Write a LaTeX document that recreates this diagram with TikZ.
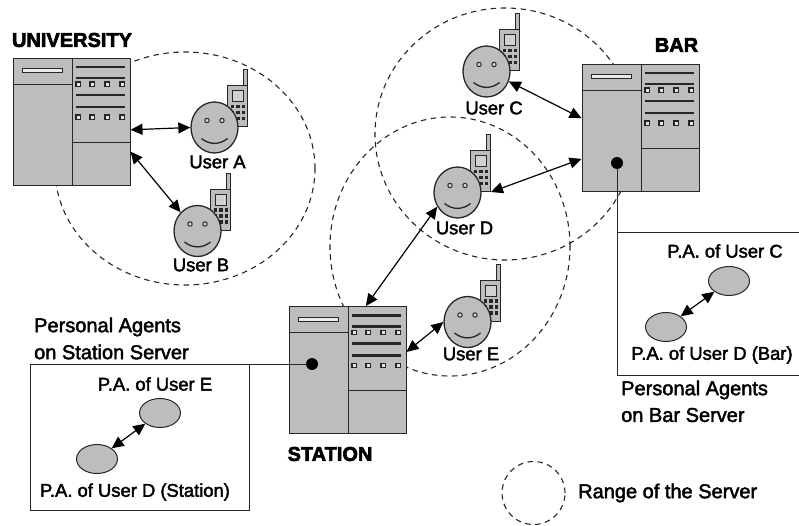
\documentclass[tikz,border=0pt]{standalone}
\usepackage{fontspec}
\setmainfont[FakeBold=2.2]{Liberation Sans}
\newfontfamily\headfont[FakeBold=3]{Liberation Sans Bold}
\usetikzlibrary{shapes.geometric,arrows.meta}
\definecolor{srv}{gray}{0.74}
\definecolor{ink}{gray}{0.15}
\tikzset{
 x=1pt,y=-1pt,
 ln/.style={draw=ink,line width=1pt},
 rangeline/.style={draw=ink,line width=1.1pt,dash pattern=on 5.5pt off 4.5pt},
 conn/.style={draw=black,line width=1.2pt,{Triangle[length=12pt,width=11pt]}-{Triangle[length=12pt,width=11pt]}},
 lbl/.style={font=\fontsize{18.4}{18.4}\selectfont,inner sep=0pt,text=black},
 captext/.style={font=\fontsize{20}{20}\selectfont,inner sep=0pt,text=black},
 head/.style={font=\headfont\fontsize{20}{20}\selectfont,inner sep=0pt},
 agent/.style={ellipse,draw=ink,line width=1pt,fill=srv,minimum width=41pt,minimum height=29pt,inner sep=0pt},
 facenode/.style={ellipse,draw=ink,line width=1.3pt,fill=srv,minimum width=47pt,minimum height=51pt,inner sep=0pt},
 srvbox/.style={rectangle,ln,fill=srv,minimum width=117pt,minimum height=127pt,inner sep=0pt},
 dotn/.style={circle,fill=black,minimum size=12pt,inner sep=0pt},
}
% server: name, centre x, centre y
\newcommand{\serverbox}[3]{%
 \node[srvbox] (#1) at (#2,#3) {};
 \begin{scope}[shift={(#2-58.5,#3-63.5)}]
  \draw[ln] (59,0) -- (59,127);
  \draw[ln] (0,26) -- (59,26);
  \draw[ln] (59,84) -- (117,84);
  \draw[draw=ink,line width=1pt,fill=white!70!srv] (9,10.5) rectangle (49,14.5);
  \foreach \yy in {9,20,37,49} \draw[draw=ink,line width=2.2pt] (63,\yy) -- (112,\yy);
  \foreach \yy in {26,59} \foreach \xx in {65,79,94,109}
   \draw[draw=ink,line width=1.4pt,fill=white!60!srv] (\xx-2.2,\yy-2.2) rectangle (\xx+2.2,\yy+2.2);
 \end{scope}}
% user: name, face centre x, y
\newcommand{\userface}[3]{%
 \begin{scope}[shift={(#2,#3)}]
  \draw[draw=ink,line width=1pt,fill=srv] (29,-42) rectangle (33,-58);
  \draw[draw=ink,line width=1pt,fill=srv] (13,-42) rectangle (33,-1);
  \draw[draw=ink,line width=1pt,fill=white!30!srv] (18,-37) rectangle (29,-26);
  \foreach \yy in {-21,-15,-9} \foreach \xx in {18,23.5,29}
   \fill[ink] (\xx-1.8,\yy-1.8) rectangle (\xx+1.8,\yy+1.8);
 \end{scope}
 \node[facenode] (#1) at (#2,#3) {};
 \begin{scope}[shift={(#2,#3)}]
  \draw[draw=ink,line width=1pt,fill=white!40!srv] (-7.5,-7) circle (2.2pt) (7.5,-7) circle (2.2pt);
  \draw[draw=ink,line width=1.3pt] (-13,11) .. controls (-5,17.5) and (5,17.5) .. (13,11);
 \end{scope}}
\begin{document}
\begin{tikzpicture}
\useasboundingbox (0,0) rectangle (799,525);
% ranges
\draw[rangeline] (185,168.5) ellipse (130pt and 116.5pt);
\draw[rangeline] (505,134) ellipse (130pt and 126pt);
\draw[rangeline] (450,246.5) ellipse (120pt and 129.5pt);
\draw[rangeline] (533.5,493) circle (31.5pt);
% servers
\serverbox{uni}{71.5}{121.5}
\serverbox{bar}{640.5}{127.5}
\serverbox{sta}{347.5}{370}
\node[dotn] (bardot) at (617,163) {};
\node[dotn] (stadot) at (312,364) {};
% agent boxes
\coordinate (barc) at (617,232);
\coordinate (barr) at (799,232);
\coordinate (barb) at (799,375);
\coordinate (barl) at (617,375);
\coordinate (stal) at (30,364);
\coordinate (stac) at (249,364);
\coordinate (stab) at (249,510);
\coordinate (stad) at (30,510);
\draw[draw=ink,line width=1pt] (bardot) -- (barl) -- (barb);
\draw[draw=ink,line width=1pt] (barc) -- (barr);
\draw[draw=ink,line width=1pt] (stadot) -- (stal) -- (stad) -- (stab) -- (stac);
% users
\userface{ua}{214.5}{127.5}
\userface{ub}{197.5}{231}
\userface{uc}{486.5}{71.5}
\userface{ud}{457.5}{192.5}
\userface{ue}{467.5}{322}
\coordinate (udphone) at (491,192);
\node[lbl] at (217.5,162) {User A};
\node[lbl] at (201,265) {User B};
\node[lbl] at (494,108) {User C};
\node[lbl] at (464.5,228) {User D};
\node[lbl] at (471,354) {User E};
% connectors
\draw[conn] (uni.-8) -- (ua.west);
\draw[conn] (uni.-27.5) -- (ub.132);
\draw[conn] (uc.-24) -- (bar.171);
\draw[conn] (udphone) -- (bar.208);
\draw[conn] (ud.-145) -- (sta.74);
\draw[conn] (ue.180) -- (sta.17);
% agents
\node[agent] (pae) at (160,413) {};
\node[agent] (pads) at (97,459) {};
\node[agent] (pac) at (729,281) {};
\node[agent] (padb) at (666,327) {};
\draw[conn] (pae) -- (pads);
\draw[conn] (pac) -- (padb);
% texts
\node[lbl] at (155,384) {P.A. of User E};
\node[lbl] at (135,492) {P.A. of User D (Station)};
\node[captext,anchor=west] at (34,327) {Personal Agents};
\node[captext,anchor=west] at (34,352) {on Station Server};
\node[lbl] at (725,251) {P.A. of User C};
\node[lbl] at (712,355) {P.A. of User D (Bar)};
\node[captext,anchor=west] at (621,390) {Personal Agents};
\node[captext,anchor=west] at (621,415) {on Bar Server};
\node[head] at (72,40) {UNIVERSITY};
\node[head] at (676.5,45) {BAR};
\node[head] at (330,454) {STATION};
\node[captext,anchor=west] at (578,493) {Range of the Server};
\end{tikzpicture}
\end{document}
